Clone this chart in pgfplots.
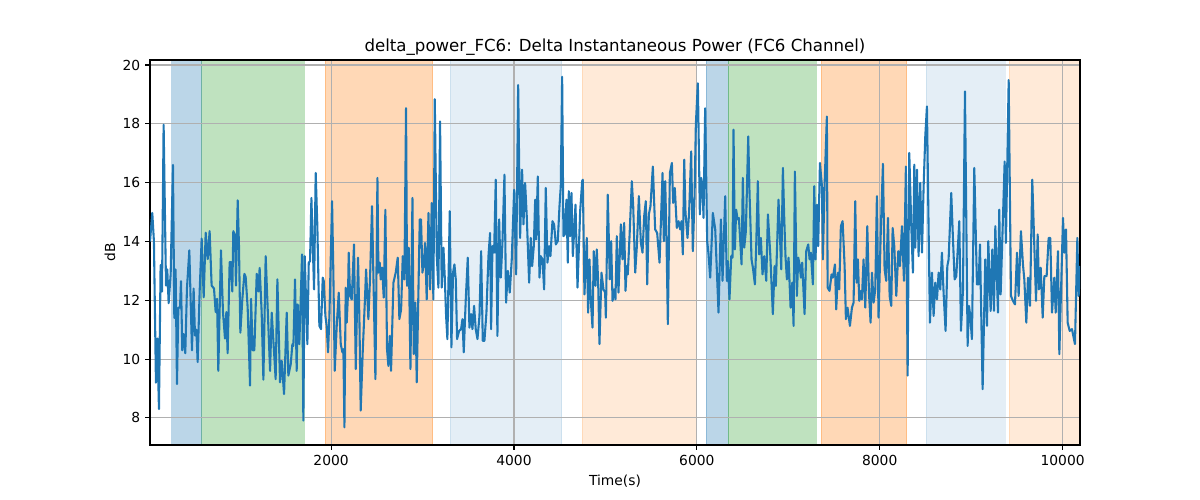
\documentclass[border=0pt]{standalone}
\usepackage{pgfplots}
\pgfplotsset{compat=1.18}
\usepackage{fontspec}
\setmainfont{DejaVu Sans}
\definecolor{tabblue}{RGB}{31,119,180}
\definecolor{taborange}{RGB}{255,127,14}
\definecolor{tabgreen}{RGB}{44,160,44}
\definecolor{gridgray}{RGB}{176,176,176}
\begin{document}
\begin{tikzpicture}
\begin{axis}[
  name=ax, set layers, clip mode=individual,
  scale only axis, width=669.6bp, height=277.2bp,
  xmin=20, xmax=10190, ymin=7.08, ymax=20.17,
  xtick={2000,4000,6000,8000,10000}, ytick={8,10,12,14,16,18,20},
  scaled x ticks=false, scaled y ticks=false,
  /pgf/number format/1000 sep={}, /pgf/number format/assume math mode=true,
  tick label style={font=\fontsize{10}{12}\selectfont},
  tick align=outside, major tick length=3.5bp, xtick pos=bottom, ytick pos=left,
  every tick/.style={black, line width=0.8bp},
  axis line style={line width=0.8bp},
  grid=major, grid style={gridgray, line width=0.8bp},
  title={delta\_power\_FC6: Delta Instantaneous Power (FC6 Channel)},
  every axis title/.style={at={(rel axis cs:0.5,1)}, anchor=base, yshift=6bp, font=\fontsize{12}{14}\selectfont},
  xlabel={Time(s)}, ylabel={dB},
  every axis x label/.style={at={(rel axis cs:0.5,0)}, anchor=base, yshift=-29.5bp, font=\fontsize{10}{12}\selectfont},
  every axis y label/.style={at={(rel axis cs:0,0.5)}, xshift=-25.2bp, rotate=90, anchor=base, font=\fontsize{10}{12}\selectfont},
  span/.style={on layer=axis background, draw=#1, fill=#1, line width=0.7bp},
]
% spans
\addplot[span=tabblue, opacity=0.3] coordinates {(259,0) (585,0) (585,30) (259,30)} -- cycle;
\addplot[span=tabgreen, opacity=0.3] coordinates {(585,0) (1708,0) (1708,30) (585,30)} -- cycle;
\addplot[span=taborange, opacity=0.3] coordinates {(1934,0) (3112,0) (3112,30) (1934,30)} -- cycle;
\addplot[span=tabblue, opacity=0.12] coordinates {(3302,0) (4523,0) (4523,30) (3302,30)} -- cycle;
\addplot[span=taborange, opacity=0.16] coordinates {(4746,0) (5995,0) (5995,30) (4746,30)} -- cycle;
\addplot[span=tabblue, opacity=0.3] coordinates {(6102,0) (6346,0) (6346,30) (6102,30)} -- cycle;
\addplot[span=tabgreen, opacity=0.3] coordinates {(6346,0) (7305,0) (7305,30) (6346,30)} -- cycle;
\addplot[span=taborange, opacity=0.3] coordinates {(7360,0) (8297,0) (8297,30) (7360,30)} -- cycle;
\addplot[span=tabblue, opacity=0.12] coordinates {(8509,0) (9373,0) (9373,30) (8509,30)} -- cycle;
\addplot[span=taborange, opacity=0.16] coordinates {(9417,0) (10300,0) (10300,30) (9417,30)} -- cycle;
% signal
\addplot[tabblue, line width=1.5bp, line join=round, mark=none] table {
x y
20 14.0
45 14.97
63 14.0
85 9.2
100 10.7
118 8.3
136 13.2
151 12.3
169 17.97
195 12.5
209 13.05
224 11.9
246 12.9
271 16.6
286 11.4
300 13.05
315 9.15
330 11.75
348 11.75
359 12.65
373 10.3
388 10.85
406 10.2
424 12.4
450 13.7
479 10.3
497 12.4
512 10.8
527 11.0
541 9.9
563 12.3
585 14.1
607 12.1
629 14.3
651 13.4
672 14.35
694 12.5
720 12.4
738 11.6
753 12.05
767 9.6
796 13.7
818 11.6
840 10.7
855 11.6
869 10.2
891 13.3
906 13.3
920 12.3
931 14.35
950 14.2
960 12.5
979 15.4
993 13.85
1008 10.9
1030 12.05
1052 12.9
1066 12.8
1088 11.75
1114 9.1
1125 12.05
1143 10.3
1161 10.3
1187 12.9
1205 12.3
1219 13.1
1241 11.6
1260 9.3
1285 13.50
1333 9.60
1351 11.58
1394 9.32
1413 12.71
1442 9.21
1460 9.94
1486 8.81
1515 11.58
1533 9.44
1559 9.83
1577 10.51
1588 10.45
1606 12.71
1624 9.60
1635 11.86
1653 10.51
1683 13.56
1697 7.91
1712 13.50
1741 10.51
1756 13.28
1770 13.33
1785 15.48
1814 12.37
1832 16.33
1850 14.52
1872 11.13
1890 11.02
1909 12.77
1920 12.66
1938 11.47
1952 11.13
1967 10.23
1982 11.47
2011 15.37
2025 12.94
2040 9.60
2062 11.13
2084 12.26
2106 10.51
2124 10.23
2135 10.34
2146 7.68
2160 12.43
2171 11.24
2186 12.26
2193 13.62
2208 12.15
2226 12.03
2251 13.90
2270 9.66
2295 13.45
2310 11.36
2324 8.25
2346 10.23
2372 12.15
2383 13.05
2408 11.36
2427 12.82
2448 15.20
2485 9.32
2507 16.16
2518 12.94
2532 13.28
2543 12.71
2558 13.11
2576 12.09
2594 15.08
2612 10.34
2627 9.77
2642 10.79
2656 9.60
2682 12.60
2707 12.94
2729 13.45
2747 11.36
2766 11.69
2784 13.50
2802 12.71
2820 18.53
2831 12.49
2849 13.79
2868 9.66
2890 15.48
2904 10.17
2922 11.92
2937 9.21
2955 12.26
2970 14.75
2984 14.75
2999 12.94
3017 13.28
3028 13.95
3046 12.03
3065 14.97
3083 12.37
3101 15.31
3119 12.03
3134 18.84
3156 13.50
3174 12.43
3192 18.08
3210 12.43
3229 13.79
3243 12.82
3258 11.47
3272 10.68
3298 15.03
3316 10.40
3334 12.94
3349 13.22
3364 12.71
3378 10.68
3400 10.96
3422 11.02
3437 11.36
3451 10.23
3473 12.03
3495 13.45
3513 11.07
3531 11.53
3546 11.02
3564 11.81
3582 11.02
3601 10.68
3623 11.47
3641 13.67
3659 10.62
3677 10.62
3699 11.58
3721 13.50
3739 14.29
3750 11.02
3765 13.84
3783 13.62
3801 16.10
3819 10.79
3838 14.75
3856 12.77
3874 13.95
3896 16.27
3914 11.92
3933 13.00
3954 12.26
3976 13.39
4002 15.76
4024 12.88
4046 19.32
4067 14.12
4089 16.44
4104 14.58
4122 15.99
4140 14.86
4166 12.60
4184 14.12
4199 13.16
4217 13.84
4232 15.42
4242 14.07
4261 16.21
4279 12.77
4293 13.50
4312 13.39
4330 12.37
4348 15.82
4366 13.28
4385 13.84
4399 13.50
4421 14.69
4439 14.58
4458 13.90
4479 14.01
4498 15.20
4512 15.88
4527 19.60
4541 14.18
4556 14.24
4574 15.42
4589 13.28
4600 15.71
4614 14.18
4629 15.65
4644 13.50
4658 14.35
4673 15.25
4695 12.43
4724 15.03
4746 16.05
4753 16.10
4771 12.20
4797 14.12
4811 11.58
4826 13.39
4840 12.03
4859 11.07
4873 13.67
4892 12.49
4906 13.73
4921 12.60
4935 10.51
4957 12.94
4979 12.37
4997 12.26
5005 11.41
5026 15.59
5048 12.71
5063 14.01
5078 11.98
5096 12.37
5110 12.03
5125 14.18
5143 12.26
5169 14.58
5187 13.39
5205 14.63
5220 12.32
5234 13.16
5245 12.88
5264 14.18
5289 16.05
5304 15.20
5326 12.94
5344 13.84
5366 15.54
5388 13.95
5406 13.62
5424 14.86
5442 15.37
5457 12.54
5475 14.92
5493 15.20
5519 16.55
5544 14.41
5566 14.29
5592 13.28
5625 16.33
5639 14.01
5654 16.05
5668 14.12
5683 11.19
5705 16.33
5727 16.67
5741 15.31
5759 15.82
5781 14.46
5800 14.69
5818 14.41
5832 14.69
5847 13.56
5862 16.78
5876 14.97
5898 14.12
5916 15.03
5938 17.06
5956 13.67
5975 15.54
5989 17.97
6011 19.38
6033 14.92
6048 16.16
6062 15.88
6073 14.80
6091 18.53
6113 14.01
6128 13.56
6146 12.77
6175 14.97
6201 14.41
6237 11.58
6263 14.75
6281 12.66
6310 15.54
6328 12.66
6339 13.33
6357 12.03
6376 13.50
6390 13.45
6401 17.80
6416 13.73
6430 15.08
6445 14.75
6460 14.80
6489 13.22
6503 16.16
6518 13.79
6536 14.35
6562 17.57
6576 15.65
6598 13.39
6613 13.11
6635 12.54
6649 13.84
6667 16.05
6682 13.56
6700 14.12
6718 12.88
6737 13.50
6759 12.66
6777 14.92
6802 13.62
6831 11.53
6850 13.16
6864 12.49
6893 15.42
6923 13.05
6941 16.50
6955 14.86
6970 13.45
6985 12.71
7003 13.45
7025 11.75
7043 12.60
7058 11.13
7072 16.38
7094 12.15
7109 13.45
7123 13.22
7138 12.77
7152 13.28
7178 11.53
7196 13.67
7218 13.90
7233 13.39
7247 13.62
7269 12.54
7284 15.88
7298 13.39
7313 15.25
7327 13.84
7346 16.67
7368 15.88
7378 13.39
7397 15.93
7422 18.25
7430 12.43
7451 12.32
7473 12.88
7488 12.77
7510 13.22
7524 11.69
7543 12.94
7557 12.37
7575 14.52
7594 14.69
7616 13.16
7630 11.36
7648 11.75
7674 11.13
7696 11.75
7714 11.92
7732 15.37
7747 12.60
7761 13.39
7776 11.98
7794 12.32
7805 12.03
7823 13.39
7842 11.75
7864 14.52
7882 12.26
7900 11.24
7915 12.94
7933 11.92
7951 12.37
7969 15.54
7987 11.41
8013 14.52
8035 16.64
8053 13.05
8071 12.66
8090 14.80
8108 12.15
8126 11.81
8141 14.46
8159 13.84
8181 12.15
8203 13.67
8221 13.16
8243 14.52
8265 12.66
8286 16.55
8305 9.44
8323 17.01
8345 14.52
8363 12.94
8378 16.61
8389 13.79
8407 16.44
8425 13.50
8443 15.99
8462 13.62
8480 15.88
8498 17.57
8516 18.59
8534 14.52
8549 11.24
8571 12.94
8589 11.47
8607 12.60
8626 12.03
8644 12.94
8662 12.37
8680 13.62
8699 12.20
8720 10.96
8739 13.16
8753 13.39
8782 15.65
8801 14.07
8819 12.71
8837 12.82
8870 14.69
8888 10.96
8910 12.32
8932 19.10
8961 10.45
8976 11.81
8990 11.47
9008 10.68
9034 16.50
9063 12.54
9081 12.54
9096 13.90
9125 8.98
9154 13.39
9173 11.13
9187 14.01
9213 11.64
9231 13.73
9249 11.64
9264 14.52
9293 11.58
9307 15.08
9322 12.20
9337 13.73
9366 16.72
9380 13.95
9410 19.49
9435 12.15
9457 11.98
9479 11.86
9501 13.62
9519 12.15
9544 14.35
9566 13.22
9581 12.71
9603 11.24
9621 12.77
9643 11.81
9668 16.10
9709 11.98
9727 14.24
9741 12.37
9760 13.11
9782 11.41
9800 12.82
9825 12.82
9847 14.12
9865 14.12
9884 11.58
9909 12.77
9924 11.58
9949 13.67
9964 10.17
10004 14.80
10019 13.62
10037 14.41
10055 11.24
10077 10.96
10102 11.02
10135 10.51
10161 14.12
10175 12.15
10190 13.16
};
\end{axis}
\path[use as bounding box] ([xshift=-108bp,yshift=-39.6bp]ax.south west) rectangle ([xshift=86.4bp,yshift=43.2bp]ax.north east);
\end{tikzpicture}
\end{document}
